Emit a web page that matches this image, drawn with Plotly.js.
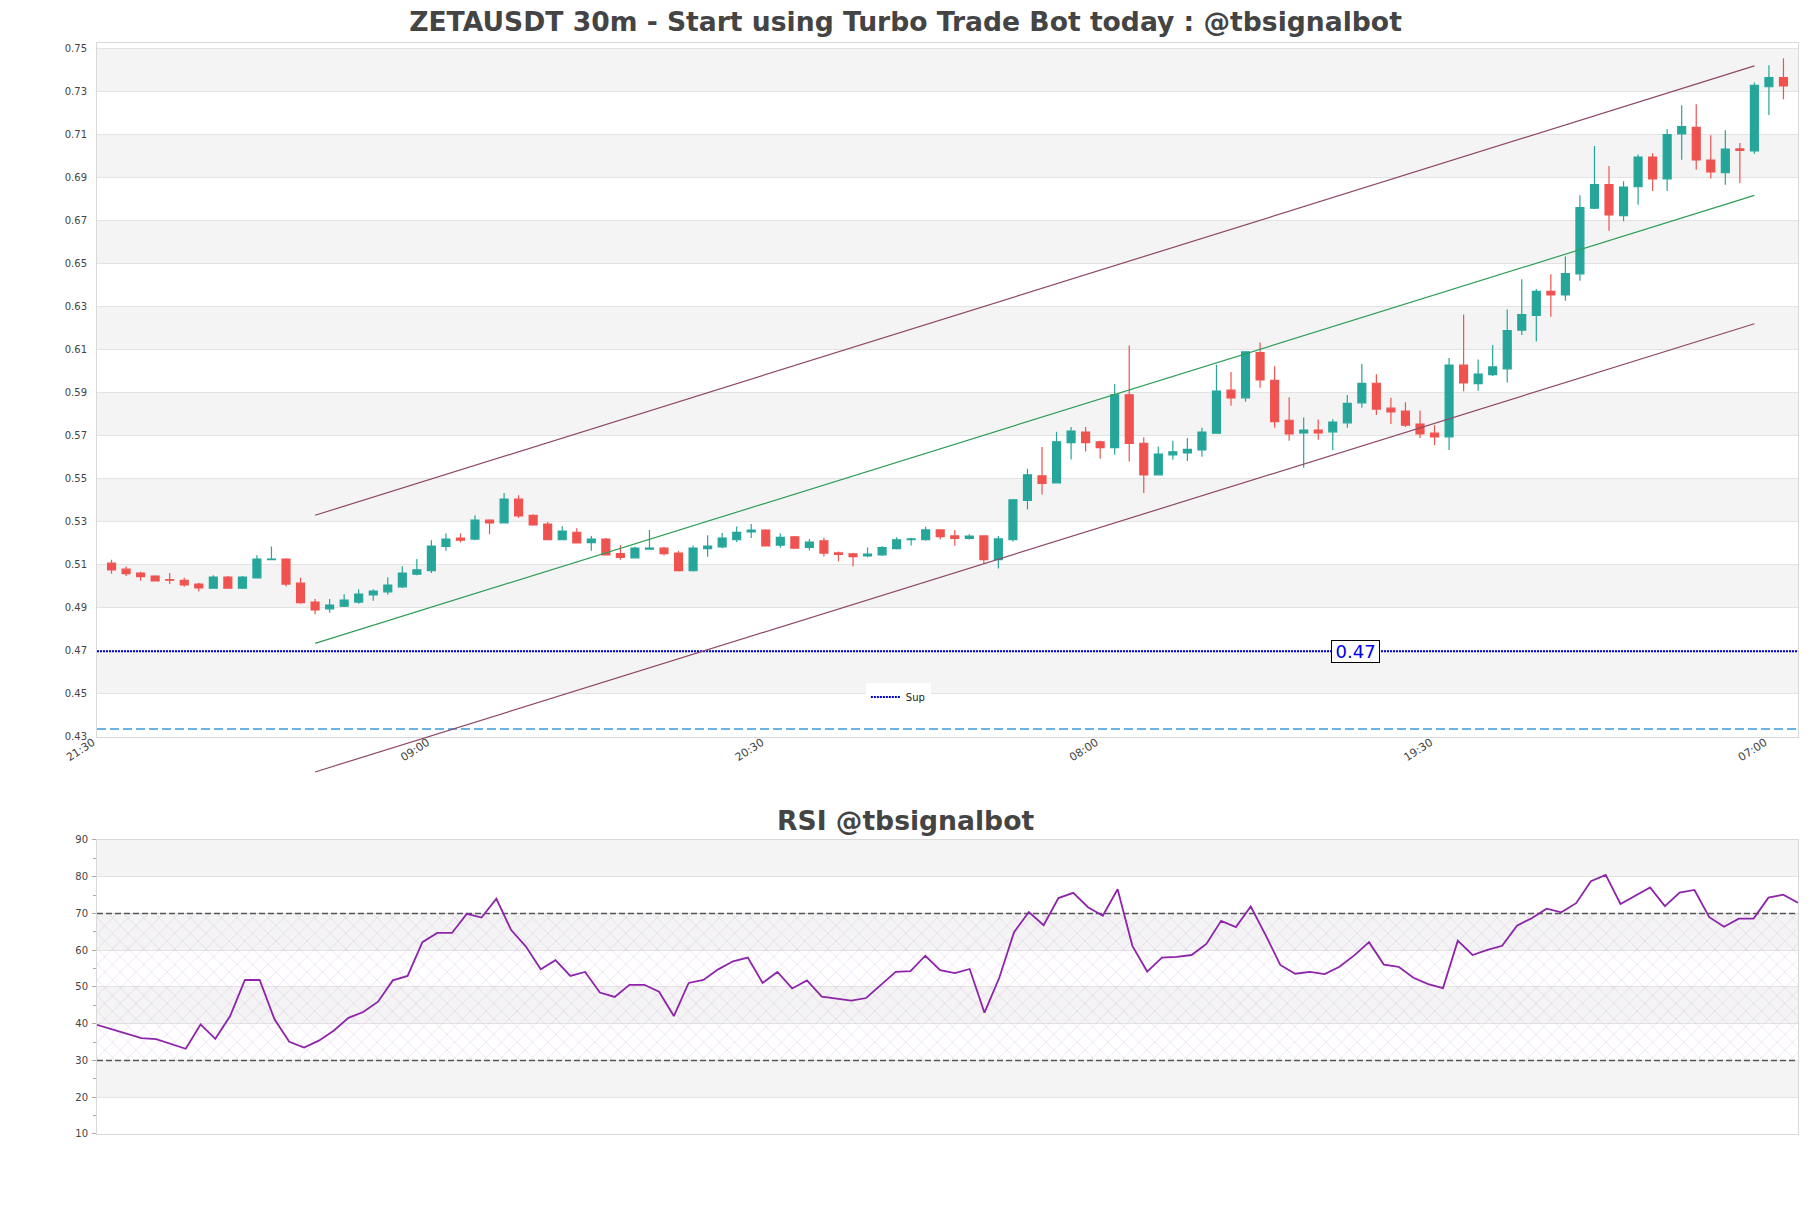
<!DOCTYPE html>
<html><head><meta charset="utf-8">
<script src="https://cdn.plot.ly/plotly-3.0.1.min.js"></script>
<style>html,body{margin:0;padding:0;background:#fff}#chart{width:1811px;height:1208px}</style>
</head><body><div id="chart"></div>
<script>
// ---- data ----
const openP = [0.5106,0.5078,0.5060,0.5046,0.5030,0.5026,0.5009,0.4990,0.5041,0.4990,
0.5038,0.5122,0.5125,0.5013,0.4925,0.4894,0.4906,0.4925,0.4959,0.4973,
0.4996,0.5055,0.5071,0.5184,0.5223,0.5218,0.5306,0.5294,0.5404,0.5329,
0.5288,0.5215,0.5250,0.5202,0.5218,0.5151,0.5131,0.5171,0.5176,0.5153,
0.5071,0.5174,0.5182,0.5215,0.5252,0.5260,0.5190,0.5229,0.5179,0.5210,
0.5154,0.5150,0.5140,0.5145,0.5174,0.5215,0.5215,0.5261,0.5233,0.5221,
0.5233,0.5123,0.5215,0.5398,0.5512,0.5480,0.5667,0.5716,0.5671,0.5644,
0.5889,0.5664,0.5517,0.5610,0.5619,0.5633,0.5711,0.5911,0.5875,0.6086,
0.5957,0.5771,0.5712,0.5725,0.5717,0.5759,0.5852,0.5943,0.5827,0.5813,
0.5753,0.5711,0.5694,0.6027,0.5941,0.5983,0.6010,0.6190,0.6259,0.6370,
0.6354,0.6452,0.6757,0.6867,0.6722,0.6857,0.6995,0.6894,0.7103,0.7133,
0.6981,0.6922,0.7033,0.7024,0.7322,0.7365];
const highP = [0.5122,0.5091,0.5066,0.5050,0.5060,0.5038,0.5015,0.5050,0.5046,0.5046,
0.5143,0.5184,0.5129,0.5038,0.4939,0.4939,0.4962,0.4985,0.4985,0.5041,
0.5092,0.5125,0.5213,0.5244,0.5244,0.5329,0.5311,0.5432,0.5422,0.5334,
0.5298,0.5278,0.5269,0.5233,0.5223,0.5190,0.5182,0.5260,0.5181,0.5164,
0.5188,0.5236,0.5246,0.5277,0.5288,0.5264,0.5244,0.5233,0.5219,0.5224,
0.5160,0.5154,0.5179,0.5185,0.5227,0.5224,0.5275,0.5264,0.5260,0.5241,
0.5236,0.5233,0.5405,0.5545,0.5647,0.5717,0.5740,0.5740,0.5675,0.5940,
0.6119,0.5692,0.5649,0.5675,0.5688,0.5736,0.6029,0.5995,0.6092,0.6133,
0.6022,0.5878,0.5784,0.5774,0.5776,0.5888,0.6032,0.5985,0.5875,0.5855,
0.5816,0.5748,0.6060,0.6263,0.6053,0.6121,0.6286,0.6427,0.6381,0.6450,
0.6533,0.6818,0.7046,0.6953,0.6883,0.7007,0.7013,0.7125,0.7236,0.7241,
0.7097,0.7120,0.7060,0.7342,0.7422,0.7455];
const lowP = [0.5057,0.5047,0.5024,0.5021,0.5009,0.4996,0.4974,0.4987,0.4988,0.4989,
0.5035,0.5120,0.4998,0.4917,0.4869,0.4875,0.4902,0.4917,0.4931,0.4959,
0.4991,0.5050,0.5061,0.5164,0.5202,0.5213,0.5241,0.5291,0.5317,0.5280,
0.5213,0.5213,0.5198,0.5164,0.5143,0.5122,0.5129,0.5168,0.5142,0.5067,
0.5067,0.5136,0.5176,0.5205,0.5223,0.5184,0.5178,0.5174,0.5165,0.5137,
0.5114,0.5092,0.5134,0.5140,0.5170,0.5188,0.5210,0.5216,0.5188,0.5216,
0.5105,0.5081,0.5207,0.5356,0.5426,0.5477,0.5588,0.5626,0.5592,0.5610,
0.5579,0.5433,0.5515,0.5587,0.5581,0.5601,0.5708,0.5838,0.5857,0.5922,
0.5736,0.5675,0.5550,0.5680,0.5633,0.5736,0.5829,0.5795,0.5753,0.5740,
0.5688,0.5655,0.5633,0.5906,0.5908,0.5977,0.5946,0.6168,0.6137,0.6252,
0.6327,0.6420,0.6753,0.6652,0.6697,0.6773,0.6837,0.6837,0.6982,0.6936,
0.6895,0.6866,0.6875,0.7010,0.7191,0.7264];
const closeP = [0.5075,0.5057,0.5043,0.5024,0.5027,0.5005,0.4991,0.5041,0.4990,0.5041,
0.5125,0.5125,0.5009,0.4922,0.4889,0.4911,0.4934,0.4962,0.4976,0.5004,
0.5060,0.5075,0.5185,0.5218,0.5213,0.5306,0.5294,0.5404,0.5326,0.5284,
0.5215,0.5255,0.5201,0.5218,0.5145,0.5133,0.5176,0.5176,0.5151,0.5071,
0.5176,0.5185,0.5223,0.5250,0.5260,0.5187,0.5226,0.5176,0.5204,0.5153,
0.5147,0.5137,0.5148,0.5178,0.5215,0.5219,0.5261,0.5230,0.5221,0.5232,
0.5123,0.5219,0.5401,0.5517,0.5477,0.5671,0.5720,0.5667,0.5644,0.5889,
0.5663,0.5517,0.5613,0.5624,0.5636,0.5716,0.5906,0.5875,0.6089,0.5959,
0.5764,0.5708,0.5725,0.5712,0.5762,0.5850,0.5943,0.5823,0.5810,0.5748,
0.5708,0.5694,0.6027,0.5945,0.5986,0.6019,0.6188,0.6262,0.6371,0.6354,
0.6453,0.6760,0.6867,0.6726,0.6855,0.6995,0.6894,0.7100,0.7137,0.6982,
0.6926,0.7032,0.7026,0.7329,0.7365,0.7326];
const rsi = [39.7,38.5,37.4,36.1,35.8,34.4,33.2,39.8,35.9,42.1,
51.9,51.9,41.2,35.1,33.5,35.4,38.1,41.6,43.2,46.0,
51.8,53.0,62.2,64.7,64.7,69.9,68.9,74.0,65.5,61.0,
54.8,57.3,53.0,54.1,48.5,47.3,50.6,50.6,48.7,42.1,
51.1,51.9,54.8,57.0,58.0,51.1,54.1,49.6,51.8,47.4,
46.8,46.3,47.0,50.6,54.1,54.3,58.5,54.6,53.8,54.9,
43.0,52.5,64.9,70.4,66.8,74.2,75.6,71.7,69.4,76.6,
61.2,54.2,58.0,58.2,58.7,61.7,68.0,66.3,71.9,64.2,
56.0,53.6,54.1,53.5,55.5,58.6,62.2,56.1,55.5,52.5,
50.8,49.7,62.6,58.7,60.1,61.2,66.7,68.7,71.3,70.3,
72.8,78.8,80.5,72.6,74.9,77.1,72.0,75.7,76.4,69.0,
66.4,68.6,68.6,74.3,75.1,72.9];
const chanIdx = [14, 113];
const chanUpper = [0.5329, 0.7419];
const chanMid = [0.4733, 0.6817];
const chanLower = [0.4135, 0.6220];
const supLevel = 0.4697;
const supLabel = '0.47';
const lowLevel = 0.4335;
const rsiLevels = [30, 70];
const tickTimes = ['2024-05-20 21:30','2024-05-21 09:00','2024-05-21 20:30','2024-05-22 08:00','2024-05-22 19:30','2024-05-23 07:00'];
const tickLabels = ['21:30','09:00','20:30','08:00','19:30','07:00'];
const xRange = ['2024-05-20 21:30','2024-05-23 08:00'];

// ---- time stamps of the 30m candles ----
function fmt(ms){const d=new Date(ms);const p=n=>String(n).padStart(2,'0');
  return d.getUTCFullYear()+'-'+p(d.getUTCMonth()+1)+'-'+p(d.getUTCDate())+' '+p(d.getUTCHours())+':'+p(d.getUTCMinutes());}
const t0 = Date.UTC(2024,4,20,22,0);
const times = openP.map((_,i)=>fmt(t0+i*30*60000));

const FONT = 'DejaVu Sans';
const GREEN = '#26a69a', RED = '#ef5350';

// layout geometry
const mainDom = [0.3639, 1];
const rsiDom = [0, 0.2695];
const yMain = [0.42977, 0.75256];
const extDom = [0.3061, 1];
const yExt = [yMain[1] - (yMain[1]-yMain[0])*(extDom[1]-extDom[0])/(mainDom[1]-mainDom[0]), yMain[1]];

const traces = [];
traces.push({type:'candlestick', x:times, open:openP, high:highP, low:lowP, close:closeP,
  increasing:{line:{color:GREEN,width:1.2},fillcolor:GREEN},
  decreasing:{line:{color:RED,width:1.2},fillcolor:RED},
  showlegend:false, hoverinfo:'skip', xaxis:'x', yaxis:'y'});
traces.push({type:'scatter', mode:'lines', x:xRange, y:[supLevel,supLevel], name:'Sup',
  line:{color:'#0000cc', width:2, dash:'2px,1px'}, xaxis:'x', yaxis:'y', showlegend:true});
traces.push({type:'scatter', mode:'lines', x:xRange, y:[lowLevel,lowLevel],
  line:{color:'#3a9ad9', width:1.4, dash:'9px,4px'}, xaxis:'x', yaxis:'y', showlegend:false});
const cx = chanIdx.map(i=>times[i]);
[[chanUpper,'#8e4766'],[chanMid,'#2e9e55'],[chanLower,'#8e4766']].forEach(([v,c])=>{
  traces.push({type:'scatter', mode:'lines', x:cx, y:v, line:{color:c,width:1.2},
    xaxis:'x3', yaxis:'y3', showlegend:false, hoverinfo:'skip'});
});
const rx = [times[0], times[times.length-1]];
traces.push({type:'scatter', mode:'lines', x:rx, y:[rsiLevels[0],rsiLevels[0]], line:{width:0},
  xaxis:'x2', yaxis:'y2', showlegend:false, hoverinfo:'skip'});
traces.push({type:'scatter', mode:'lines', x:rx, y:[rsiLevels[1],rsiLevels[1]], line:{width:0},
  fill:'tonexty', fillcolor:'rgba(0,0,0,0)',
  fillpattern:{shape:'x', fgcolor:'rgba(190,140,210,0.5)', bgcolor:'rgba(0,0,0,0)', size:11, solidity:0.08},
  xaxis:'x2', yaxis:'y2', showlegend:false, hoverinfo:'skip'});
rsiLevels.forEach(l=>traces.push({type:'scatter', mode:'lines', x:rx, y:[l,l],
  line:{color:'#555', width:1.3, dash:'6px,3px'}, xaxis:'x2', yaxis:'y2', showlegend:false, hoverinfo:'skip'}));
traces.push({type:'scatter', mode:'lines', x:times, y:rsi, line:{color:'#8e24aa', width:1.8},
  xaxis:'x2', yaxis:'y2', showlegend:false});

// alternating bands
const shapes = [];
for (let v=0.45; v<0.74; v+=0.04) shapes.push({type:'rect', xref:'paper', yref:'y', x0:0, x1:1, y0:v, y1:v+0.02,
  fillcolor:'#f4f4f4', line:{width:0}, layer:'below'});
for (let v=20; v<90; v+=20) shapes.push({type:'rect', xref:'paper', yref:'y2', x0:0, x1:1, y0:v, y1:v+10,
  fillcolor:'#f4f4f4', line:{width:0}, layer:'below'});

const axLine = '#d9d9d9', grid = '#e3e3e3';
const tickF = {family:FONT, size:10, color:'#444'};
const layout = {
  width:1811, height:1208,
  margin:{l:97, r:13, t:43, b:74},
  paper_bgcolor:'#ffffff', plot_bgcolor:'rgba(0,0,0,0)',
  font:{family:FONT, color:'#444'},
  boxgap:0.22,
  title:{text:'ZETAUSDT 30m - Start using Turbo Trade Bot today : @tbsignalbot',
    x:0.5, xref:'container', xanchor:'center', y:1-22/1208, yref:'container', yanchor:'middle',
    font:{family:FONT, size:26.6, color:'#444', weight:'bold'}},
  xaxis:{domain:[0,1], anchor:'y', type:'date', range:xRange, tickvals:tickTimes, ticktext:tickLabels,
    tickangle:-33, tickfont:{family:FONT, size:11, color:'#444'}, showgrid:false, zeroline:false, showline:true, mirror:true, linecolor:axLine,
    ticks:'', ticklabelstandoff:-6, ticklabelshift:-4, rangeslider:{visible:false}},
  yaxis:{domain:mainDom, anchor:'x', range:yMain, tick0:0.43, dtick:0.02, tickformat:'.2f', tickfont:tickF,
    showgrid:true, gridcolor:grid, zeroline:false, showline:true, mirror:true, linecolor:axLine, ticks:'',
    ticklabelstandoff:7},
  xaxis3:{domain:[0,1], anchor:'y3', type:'date', range:xRange, visible:false, showgrid:false},
  yaxis3:{domain:extDom, anchor:'x3', range:yExt, visible:false, showgrid:false},
  xaxis2:{domain:[0,1], anchor:'y2', type:'date', range:rx, showticklabels:false, showgrid:false, zeroline:false,
    showline:true, mirror:true, linecolor:axLine, ticks:''},
  yaxis2:{domain:rsiDom, anchor:'x2', range:[10,90], dtick:10, tick0:10, tickfont:tickF, showgrid:true, gridcolor:grid,
    zeroline:false, showline:true, mirror:true, linecolor:axLine, ticks:'outside', ticklen:4, tickcolor:'#aaa',
    ticklabelstandoff:2, minor:{ticks:'outside', ticklen:3, dtick:5, tickcolor:'#aaa', showgrid:false}},
  showlegend:true,
  legend:{x:0.452, y:0.4138, xanchor:'left', yanchor:'top', bgcolor:'#ffffff', font:{family:FONT, size:10, color:'#222'}},
  shapes:shapes,
  annotations:[
    {text:'RSI @tbsignalbot', xref:'paper', yref:'paper', x:(905.5-97)/1701, y:(1134-820)/1091,
      xanchor:'center', yanchor:'middle', showarrow:false, font:{family:FONT, size:26.6, color:'#444', weight:'bold'}},
    {text:'\u2009'+supLabel+'\u2009', xref:'paper', yref:'y', x:0.74, y:supLevel, xanchor:'center', yanchor:'middle', showarrow:false,
      font:{family:FONT, size:18, color:'#0000ee'}, bgcolor:'#ffffff', bordercolor:'#000', borderwidth:1, borderpad:0}
  ]
};
Plotly.newPlot('chart', traces, layout, {displayModeBar:false, staticPlot:true});
</script></body></html>
